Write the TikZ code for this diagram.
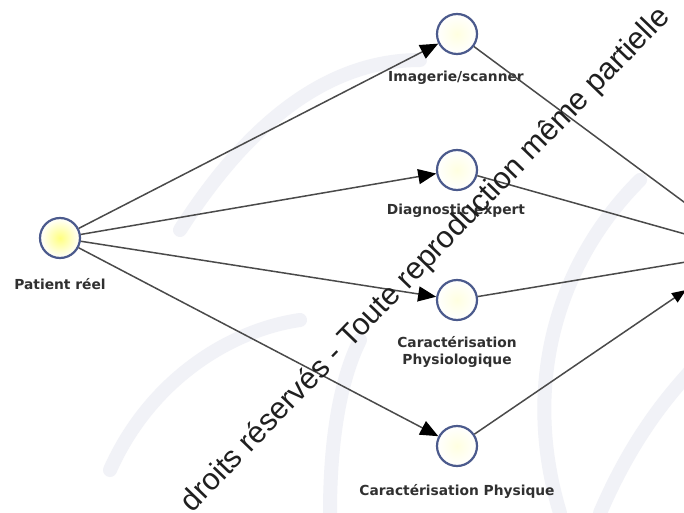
\documentclass[tikz,border=0pt]{standalone}
\usepackage{fontspec}
\setmainfont{DejaVu Sans}
\newfontfamily\wmfont{Liberation Sans}
\usetikzlibrary{arrows.meta}
\definecolor{ring}{HTML}{4B5A8C}
\definecolor{edgegray}{HTML}{4A4A4A}
\definecolor{lbl}{HTML}{303030}
\definecolor{faint}{HTML}{F1F2F7}
\tikzset{
  statenode/.style={circle, draw=ring, line width=2.2pt, minimum size=40pt, inner sep=0pt,
    inner color=yellow!12, outer color=white},
  startnode/.style={statenode, inner color=yellow!50},
  lab/.style={font=\fontsize{13.8}{15.5}\selectfont\bfseries, text=lbl, align=center, inner sep=0pt},
  link/.style={draw=edgegray, line width=1.5pt},
  arr/.style={link, -{Triangle[length=18pt,width=15pt,color=black]}},
  wm/.style={font=\wmfont\fontsize{30.5}{30.5}\selectfont, text=black!88, rotate=46, inner sep=0pt}
}
\begin{document}
\begin{tikzpicture}[x=1pt,y=-1pt]
\useasboundingbox (0,0) rectangle (684,513);
\clip (0,0) rectangle (684,513);
\fill[white] (0,0) rectangle (684,513);
% faint background swirls
\begin{scope}[faint, line width=14pt, line cap=round]
  \draw (560,513) .. controls (520,380) and (560,260) .. (640,180);
  \draw (600,513) .. controls (640,420) and (684,380) .. (700,360);
  \draw (180,230) .. controls (250,120) and (330,60) .. (420,60);
  \draw (110,470) .. controls (150,380) and (230,330) .. (300,320);
  \draw (330,513) .. controls (330,440) and (340,380) .. (360,340);
\end{scope}
% nodes
\node[startnode] (P) at (60,238) {};
\node[statenode] (I) at (457,34) {};
\node[statenode] (D) at (457,170) {};
\node[statenode] (CP) at (457,300) {};
\node[statenode] (CF) at (457,446) {};
% labels
\node[lab] (lP) at (60,284) {Patient réel};
\node[lab] (lI) at (456,78) {Imagerie/scanner};
\node[lab] (lD) at (456,211) {Diagnostic expert};
\node[lab] (lCP) at (457,352) {Caractérisation\\[1pt]Physiologique};
\node[lab] (lCF) at (457,491) {Caractérisation Physique};
% off-picture ends
\coordinate (e1) at (692,208);
\coordinate (e2) at (692,236);
\coordinate (e3) at (692,261);
\coordinate (e4) at (686,290);
% connectors
\draw[arr] (P) -- (I);
\draw[arr] (P) -- (D);
\draw[arr] (P) -- (CP);
\draw[arr] (P) -- (CF);
\draw[link] (I) -- (e1);
\draw[link] (D) -- (e2);
\draw[link] (CP) -- (e3);
\draw[link, -{Triangle[length=14pt,width=11pt,color=black]}] (CF) -- (e4);
% watermark
\node[wm] (wm) at (426,260) {droits réservés - Toute reproduction même partielle};
\end{tikzpicture}
\end{document}
